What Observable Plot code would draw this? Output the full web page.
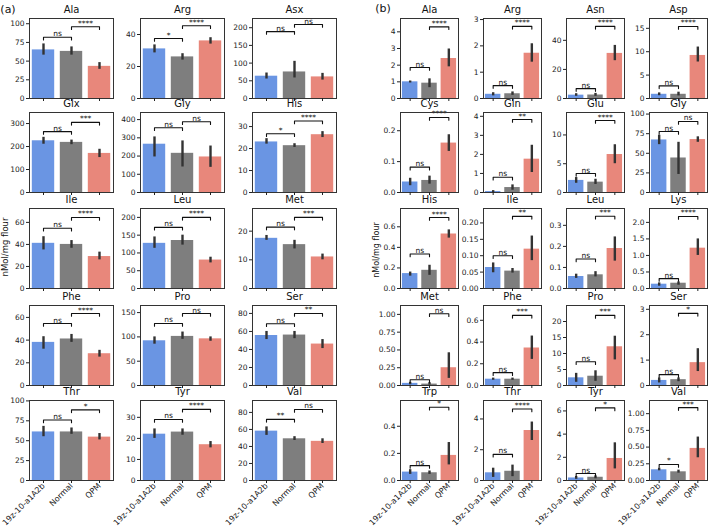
<!DOCTYPE html>
<html><head><meta charset="utf-8">
<script src="https://cdn.jsdelivr.net/npm/d3@7"></script>
<script src="https://cdn.jsdelivr.net/npm/@observablehq/plot@0.6"></script>
<style>
body{margin:0;background:#fff;}
#root{position:relative;width:709px;height:528px;overflow:hidden;font-family:"DejaVu Sans",sans-serif;background:#fff;}
#root svg{position:absolute;overflow:visible;}
.lbl{position:absolute;white-space:nowrap;color:#111;line-height:1;}
</style></head><body><div id="root"></div>
<script>
// ---------- data ----------
const groups = ["19z-10-a1A2b", "Normal", "QPM"];
const groupColors = ["#6a95e3", "#7e7e7e", "#e8877b"];

// Panel (a)
const aNames = ["Ala","Arg","Asx","Glx","Gly","His","Ile","Leu","Met","Phe","Pro","Ser","Thr","Tyr","Val"];
const aMeans = [[65,63,43],[31,26,36],[63,75,61],[225,218,170],[265,215,195],[23,21.3,26.3],[41,40,29],[127,135,80],[17.5,15.3,11],[38,41,28],[92,101,96],[55.5,56,46],[61,61,54.5],[22,23,17],[58,49,46]];
const aLow = [[58,58,39],[28.5,24,34],[55,58,52],[210,208,152],[195,140,138],[22,20.5,25],[35,36.5,26],[113,122,72],[16.8,13.8,10],[32,38,25],[85,95,91],[51,52,41],[55,58,51],[20,21.5,15.5],[53,47,43.5]];
const aHigh = [[73,69,48],[33.5,28,38],[72,105,71],[240,228,188],[305,283,255],[24.5,22.2,27.7],[47,43.5,33],[145,150,88],[18.5,16.8,12],[43,45,31],[100,110,100],[60,60,51],[68,66,59],[24.5,24.5,18.5],[63,51.5,49]];
const aYMax = [107,50,226,348,439,36.4,72.6,225,27.9,70.5,164.6,88.8,100.5,38,94];
const aTicks = [["0","25","50","75","100"],["0","20","40"],["0","50","100","150","200"],["0","100","200","300"],["0","100","200","300","400"],["0","10","20","30"],["0","20","40","60"],["0","50","100","150","200"],["0","10","20"],["0","20","40","60"],["0","50","100","150"],["0","20","40","60","80"],["0","25","50","75","100"],["0","10","20","30"],["0","20","40","60","80"]];
const aSig12 = ["ns","*","ns","ns","ns","*","ns","ns","ns","ns","ns","ns","ns","ns","**"];
const aSig12Y = [82,37.5,189,265,355,26.7,54.7,172,21.4,54.6,127.6,68.5,76,29,71.8];
const aSig23 = ["****","****","ns","***","ns","****","****","****","***","****","ns","**","*","****","ns"];
const aSig23Y = [96,45.5,209,305,388,32.5,64.5,200,24.8,63.4,148,80,88.7,33.8,83.5];

// Panel (b)
const bNames = ["Ala","Arg","Asn","Asp","Cys","Gln","Glu","Gly","His","Ile","Leu","Lys","Met","Phe","Pro","Ser","Trp","Thr","Tyr","Val"];
const bMeans = [[1.0,0.92,2.4],[0.16,0.18,1.72],[2.3,2.4,31],[0.9,0.9,9.2],[0.034,0.039,0.16],[0.05,0.26,1.75],[2.1,1.8,6.6],[67,44,67.5],[0.145,0.177,0.53],[0.064,0.053,0.12],[0.057,0.065,0.19],[0.13,0.16,1.22],[0.03,0.02,0.25],[0.058,0.058,0.345],[2.4,2.9,12.1],[0.2,0.23,0.9],[0.062,0.057,0.185],[0.5,0.6,3.25],[0.22,0.28,1.9],[0.16,0.13,0.48]];
const bLow = [[0.93,0.65,1.9],[0.1,0.12,1.38],[1.5,1.5,26],[0.6,0.55,7.8],[0.022,0.027,0.133],[0,0.12,1.05],[1.6,1.4,5],[61,23,64],[0.12,0.128,0.49],[0.048,0.047,0.085],[0.048,0.055,0.13],[0.07,0.1,1.0],[0.01,0.005,0.1],[0.048,0.048,0.24],[1,1.3,8],[0.1,0.15,0.55],[0.045,0.045,0.115],[0.2,0.25,2.6],[0.1,0.15,1.0],[0.145,0.11,0.34]];
const bHigh = [[1.05,1.18,2.97],[0.22,0.25,2.08],[3.3,3.5,36.5],[1.2,1.35,11],[0.046,0.053,0.187],[0.1,0.4,2.48],[2.6,2.3,8.3],[73,64,71],[0.16,0.226,0.57],[0.078,0.061,0.16],[0.068,0.08,0.245],[0.17,0.2,1.5],[0.045,0.04,0.46],[0.068,0.068,0.455],[3.8,4.6,15.4],[0.3,0.3,1.45],[0.08,0.07,0.28],[0.8,1.0,3.8],[0.35,0.4,3.25],[0.185,0.155,0.65]];
const bYMax = [4.8,3.04,55,17.1,0.259,4.2,13.9,102,0.778,0.244,0.38,2.42,1.125,0.736,25,3.15,0.59,5.2,6.9,1.197];
const bTicks = [["0","1","2","3","4"],["0","1","2","3"],["0","20","40"],["0","5","10","15"],["0.0","0.1","0.2"],["0","1","2","3","4"],["0","5","10"],["0","25","50","75","100"],["0.0","0.2","0.4","0.6"],["0.00","0.05","0.10","0.15","0.20"],["0.0","0.1","0.2","0.3"],["0.0","0.5","1.0","1.5","2.0"],["0.00","0.25","0.50","0.75","1.00"],["0.0","0.2","0.4","0.6"],["0","5","10","15","20"],["0","1","2","3"],["0.0","0.2","0.4"],["0","2","4"],["0","2","4","6"],["0.00","0.25","0.50","0.75","1.00"]];
const bSig12 = ["ns","ns","ns","ns","ns","ns","ns","ns","ns","ns","ns","ns","ns","ns","ns","ns","ns","ns","ns","*"];
const bSig12Y = [1.86,0.49,6.8,2.7,0.082,0.8,3.3,77.7,0.335,0.1,0.14,0.3,0.08,0.118,7.4,0.43,0.11,1.7,0.6,0.24];
const bSig23 = ["****","****","****","****","****","**","****","ns","****","**","***","****","ns","***","***","*","*","****","*","***"];
const bSig23Y = [4.3,2.74,49.6,15.4,0.243,3.83,12.5,90.6,0.69,0.22,0.343,2.18,1.01,0.645,21.9,2.84,0.54,4.65,6.26,1.09];

// ---------- layout ----------
const rowTops = [18, 112, 208, 305, 400];
const frameH = 80;
const root = document.getElementById("root");

function drawPanel(names, means, low, high, ymax, ticks, s12, y12, s23, y23, colLefts, frameW) {
  const nCols = colLefts.length;
  names.forEach((name, k) => {
    const r = Math.floor(k / nCols), c = k % nCols;
    const bottomRow = r === rowTops.length - 1;
    const ml = 32, mr = 4, mt = 18, mb = bottomRow ? 56 : 8;
    const bars = groups.map((g, i) => ({i, g, m: means[k][i], lo: low[k][i], hi: high[k][i]}));
    const h = 0.034 * ymax[k];
    const brk = [
      {k: 0, x1: 0, x2: 1, y: y12[k], s: s12[k]},
      {k: 1, x1: 1, x2: 2, y: y23[k], s: s23[k]}
    ];
    const brkPts = brk.flatMap(b => [
      {k: b.k, x: b.x1, y: b.y - h}, {k: b.k, x: b.x1, y: b.y},
      {k: b.k, x: b.x2, y: b.y}, {k: b.k, x: b.x2, y: b.y - h}
    ]);
    const tickVals = ticks[k].map(Number);
    const tickLab = new Map(ticks[k].map(t => [+t, t]));
    const svg = Plot.plot({
      width: ml + frameW + mr,
      height: mt + frameH + mb,
      marginLeft: ml, marginRight: mr, marginTop: mt, marginBottom: mb,
      x: {domain: [-0.5, 2.5]},
      y: {domain: [0, ymax[k]]},
      style: {fontFamily: '"DejaVu Sans", sans-serif', fontSize: "7.5px", color: "#222", background: "transparent", overflow: "visible"},
      marks: [
        Plot.rect(bars, {x1: d => d.i - 0.4, x2: d => d.i + 0.4, y1: 0, y2: "m", fill: d => groupColors[d.i]}),
        Plot.ruleX(bars, {x: "i", y1: "lo", y2: "hi", stroke: "#333", strokeWidth: 2.4}),
        Plot.line(brkPts, {x: "x", y: "y", z: "k", stroke: "#111", strokeWidth: 1.1}),
        Plot.text(brk, {x: d => (d.x1 + d.x2) / 2, y: "y", text: "s", dy: -1, lineAnchor: "bottom", fontSize: 7.5, fill: "#111"}),
        Plot.frame({stroke: "#333", strokeWidth: 1}),
        Plot.axisY({ticks: tickVals, tickSize: 3, tickPadding: 2, tickFormat: d => tickLab.get(d), fontSize: 7.5, label: null}),
        Plot.axisX({ticks: [0, 1, 2], tickSize: 3, tickPadding: 1, tickFormat: bottomRow ? (d => groups[d]) : (() => ""), tickRotate: bottomRow ? -45 : 0, fontSize: 8, label: null}),
        Plot.text([name], {text: d => d, frameAnchor: "top", dy: -6, lineAnchor: "bottom", fontSize: 10, fill: "#111"})
      ]
    });
    svg.style.left = (colLefts[c] - ml) + "px";
    svg.style.top = (rowTops[r] - mt) + "px";
    root.appendChild(svg);
  });
}

function addLabel(text, cx, cy, size, rotate) {
  const d = document.createElement("div");
  d.className = "lbl";
  d.textContent = text;
  d.style.fontSize = size + "px";
  d.style.left = cx + "px";
  d.style.top = cy + "px";
  d.style.transform = "translate(-50%,-50%)" + (rotate ? " rotate(-90deg)" : "");
  root.appendChild(d);
}

drawPanel(aNames, aMeans, aLow, aHigh, aYMax, aTicks, aSig12, aSig12Y, aSig23, aSig23Y, [29, 140, 252], 84);
drawPanel(bNames, bMeans, bLow, bHigh, bYMax, bTicks, bSig12, bSig12Y, bSig23, bSig23Y, [400, 483, 566, 649], 58);

addLabel("(a)", 8, 9, 11, false);
addLabel("(b)", 383, 8, 11, false);
addLabel("nMol/mg flour", 5, 247, 8.5, true);
addLabel("nMol/mg flour", 377, 250, 8, true);
</script></body></html>
